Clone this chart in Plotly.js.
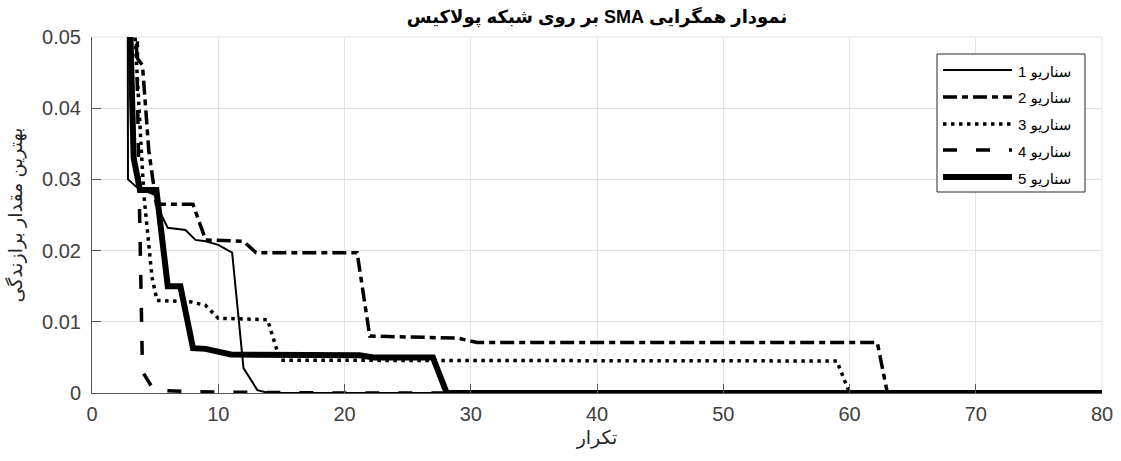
<!DOCTYPE html>
<html><head><meta charset="utf-8">
<script src="https://cdn.plot.ly/plotly-3.0.1.min.js"></script>
<style>html,body{margin:0;padding:0;background:#fff}#chart{width:1121px;height:461px}</style>
</head><body><div id="chart"></div>
<script>
// ---- data ----
const s1x = [2.8, 2.85, 3.55, 5.0, 5.5, 6.0, 7.4, 8.2, 9.0, 10.0, 11.1, 12.0, 13.1, 14.0, 80];
const s1y = [0.09, 0.030, 0.0289, 0.0278, 0.025, 0.0232, 0.0229, 0.0215, 0.0213, 0.0208, 0.0197, 0.0035, 0.0004, 0, 0];

const s2x = [3.5, 3.6, 4.0, 4.5, 5.1, 8.0, 9.0, 12.0, 13.0, 21.0, 22.0, 29.0, 30.5, 62.2, 63.0, 80];
const s2y = [0.09, 0.047, 0.046, 0.034, 0.0265, 0.0265, 0.0215, 0.0213, 0.0197, 0.0197, 0.0080, 0.0077, 0.0071, 0.0071, 0, 0];

const s3x = [3.1, 4.1, 4.75, 5.15, 7.8, 9.0, 10.0, 13.9, 14.9, 59.0, 60.0, 80];
const s3y = [0.06, 0.028, 0.0163, 0.013, 0.0128, 0.0123, 0.0105, 0.0103, 0.0046, 0.0045, 0, 0];

const s4x = [3.0, 4.0, 4.9, 8.0, 12.0, 20.0, 80];
const s4y = [0.1, 0.003, 0.0004, 0.0002, 0.0001, 0, 0];

const s5x = [2.9, 3.3, 3.8, 5.1, 6.0, 7.0, 8.0, 9.0, 11.0, 21.2, 22.3, 27.0, 28.1, 80];
const s5y = [0.06, 0.033, 0.0285, 0.0285, 0.015, 0.015, 0.0063, 0.0062, 0.0054, 0.0053, 0.0050, 0.0050, 0, 0];

const seriesNames = ["سناریو 1", "سناریو 2", "سناریو 3", "سناریو 4", "سناریو 5"];
const chartTitle = "نمودار همگرایی SMA بر روی شبکه پولاکیس";
const xTitle = "تکرار";
const yTitle = "بهترین مقدار برازندگی";
const xTickVals = [0, 10, 20, 30, 40, 50, 60, 70, 80];
const yTickVals = [0, 0.01, 0.02, 0.03, 0.04, 0.05];

// ---- styles ----
const styles = [
  {width: 2,   dash: 'solid', lw: 2},
  {width: 3.5, dash: '14px,5px,6px,5px', lw: 3.5},
  {width: 3.5, dash: '3.5px,4.5px', lw: 3.5},
  {width: 3.5, dash: '14px,19px', lw: 3.5},
  {width: 6,   dash: 'solid', lw: 6}
];
const series = [[s1x, s1y], [s2x, s2y], [s3x, s3y], [s4x, s4y], [s5x, s5y]];

const traces = series.map((s, i) => ({
  x: s[0], y: s[1], type: 'scatter', mode: 'lines', name: seriesNames[i],
  line: {color: '#000', width: styles[i].width, dash: styles[i].dash, simplify: false},
  showlegend: false, hoverinfo: 'skip'
}));

// plot area in pixels
const L = 92, R = 1102, T = 37, B = 393;
const px2x = p => (p - L) / (R - L);
const py2y = p => (B - p) / (B - T);

const shapes = [
  {type: 'line', xref: 'paper', yref: 'paper', x0: 0, x1: 1, y0: 1, y1: 1, line: {color: '#e3e3e3', width: 1}, layer: 'below'},
  {type: 'line', xref: 'paper', yref: 'paper', x0: 1, x1: 1, y0: 0, y1: 1, line: {color: '#e3e3e3', width: 1}, layer: 'below'},
  {type: 'rect', xref: 'paper', yref: 'paper', x0: px2x(937), x1: px2x(1085), y0: py2y(192), y1: py2y(54),
   line: {color: '#262626', width: 1}, fillcolor: '#ffffff', layer: 'above'}
];
const annotations = [];
const rowY = [70, 97, 124, 150, 177];
seriesNames.forEach((n, i) => {
  shapes.push({type: 'line', xref: 'paper', yref: 'paper', x0: px2x(943), x1: px2x(1012), y0: py2y(rowY[i]), y1: py2y(rowY[i]),
    line: {color: '#000', width: styles[i].lw, dash: styles[i].dash}, layer: 'above'});
  annotations.push({xref: 'paper', yref: 'paper', x: px2x(1016), y: py2y(rowY[i] + 1.5), xanchor: 'left', yanchor: 'middle',
    text: n, showarrow: false, font: {family: 'Liberation Sans, Arial, DejaVu Sans, sans-serif', size: 15, color: '#000'}});
});

const tickFont = {family: 'Liberation Sans, Arial, sans-serif', size: 20, color: '#404040'};
const layout = {
  width: 1121, height: 461,
  margin: {l: L, r: 1121 - R, t: T, b: 461 - B, pad: 0},
  paper_bgcolor: '#fff', plot_bgcolor: '#fff',
  showlegend: false,
  title: {text: '<b>\u2067' + chartTitle + '\u2069</b>', x: 0.5, xref: 'paper', xanchor: 'center', y: 1 - 17 / 461, yref: 'container', yanchor: 'middle',
          font: {family: 'Liberation Sans, Arial, DejaVu Sans, sans-serif', size: 18, color: '#000'}},
  xaxis: {range: [0, 80], tickvals: xTickVals, ticks: 'inside', ticklen: 9, tickcolor: '#555', tickwidth: 1,
          showline: true, linecolor: '#555', linewidth: 1, showgrid: true, gridcolor: '#e3e3e3', gridwidth: 1,
          zeroline: false, tickfont: tickFont, ticklabelstandoff: 3,
          title: {text: xTitle, font: {family: 'Liberation Sans, Arial, DejaVu Sans, sans-serif', size: 19, color: '#262626'}, standoff: 6},
          fixedrange: true},
  yaxis: {range: [0, 0.05], tickvals: yTickVals, ticks: 'inside', ticklen: 9, tickcolor: '#555', tickwidth: 1,
          showline: true, linecolor: '#555', linewidth: 1, showgrid: true, gridcolor: '#e3e3e3', gridwidth: 1,
          zeroline: false, tickfont: tickFont, ticklabelstandoff: 6,
          title: {text: yTitle, font: {family: 'Liberation Sans, Arial, DejaVu Sans, sans-serif', size: 19, color: '#262626'}, standoff: 14},
          fixedrange: true},
  shapes: shapes,
  annotations: annotations
};

Plotly.newPlot('chart', traces, layout, {staticPlot: true, displayModeBar: false});
</script>
</body></html>
